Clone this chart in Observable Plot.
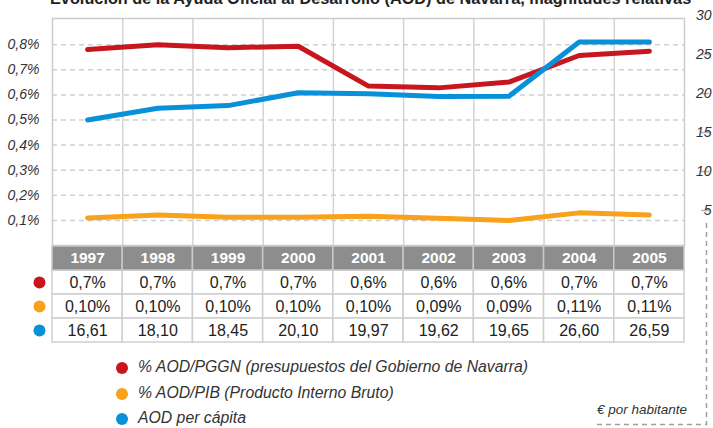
<!DOCTYPE html>
<html>
<head>
<meta charset="utf-8">
<script src="https://cdn.jsdelivr.net/npm/d3@7"></script>
<script src="https://cdn.jsdelivr.net/npm/@observablehq/plot@0.6"></script>
<style>
  html, body { margin: 0; padding: 0; background: #fff; }
  #root { position: relative; width: 713px; height: 428px; overflow: hidden; font-family: "Liberation Sans", Arial, sans-serif; }
  #title { position: absolute; left: 50px; top: -10px; font-weight: bold; font-size: 16.3px; line-height: 16px; color: #222; white-space: nowrap; }
  #chart, #table { position: absolute; left: 0; }
  #chart { top: 0; }
  #table { top: 245px; }
  .leg { position: absolute; left: 138px; font-style: italic; font-size: 15.8px; color: #333; white-space: nowrap; line-height: 18px; }
  .legdot { position: absolute; width: 12px; height: 12px; border-radius: 50%; left: 116px; }
  #unit { position: absolute; left: 597px; top: 402px; font-style: italic; font-size: 13.5px; color: #333; white-space: nowrap; }
  #bracket { position: absolute; left: 0; top: 0; }
</style>
</head>
<body>
<div id="root">
  <div id="title">Evolución de la Ayuda Oficial al Desarrollo (AOD) de Navarra, magnitudes relativas</div>
  <div id="chart"></div>
  <div id="table"></div>
  <div id="legend"></div>
  <div id="unit">€ por habitante</div>
  <svg id="bracket" width="713" height="428"><path d="M706.5,223 V424.5 H595" fill="none" stroke="#a0a0a0" stroke-width="1.5" stroke-dasharray="5,4"/></svg>
</div>
<script>
// ---- data ----
const years = [1997, 1998, 1999, 2000, 2001, 2002, 2003, 2004, 2005];
const pggn = [0.781, 0.800, 0.788, 0.794, 0.635, 0.628, 0.651, 0.757, 0.774];   // % AOD/PGGN (line)
const pib = [0.110, 0.122, 0.113, 0.113, 0.117, 0.109, 0.100, 0.130, 0.122];    // % AOD/PIB (line)
const perCapita = [16.61, 18.10, 18.45, 20.10, 19.97, 19.62, 19.65, 26.60, 26.59]; // € por habitante
const pggnLabels = ["0,7%", "0,7%", "0,7%", "0,7%", "0,6%", "0,6%", "0,6%", "0,7%", "0,7%"];
const pibLabels = ["0,10%", "0,10%", "0,10%", "0,10%", "0,10%", "0,09%", "0,09%", "0,11%", "0,11%"];
const leftTicks = [0.1, 0.2, 0.3, 0.4, 0.5, 0.6, 0.7, 0.8];
const rightTicks = [5, 10, 15, 20, 25];
const rightTopTick = [30];
const seriesNames = ["% AOD/PGGN (presupuestos del Gobierno de Navarra)", "% AOD/PIB (Producto Interno Bruto)", "AOD per cápita"];
const colors = ["#c8161e", "#f7a11c", "#0891d8"];

// secondary axis: € per capita -> % units of the main y scale
const e2p = d3.scaleLinear().domain([0, 30]).range([-4 / 251, 230 / 251]);
const fmtE = v => v.toFixed(2).replace(".", ",");

const W = 713, mL = 52, mR = 29;
const xDomain = [1996.5, 2005.5];
const bounds = d3.range(1997.5, 2005.5, 1);

const pggnData = years.map((year, i) => ({year, v: pggn[i]}));
const pibData = years.map((year, i) => ({year, v: pib[i]}));
const capData = years.map((year, i) => ({year, v: e2p(perCapita[i])}));

const chart = Plot.plot({
  width: W, height: 245,
  marginLeft: mL, marginRight: mR, marginTop: 18, marginBottom: 0,
  style: {fontFamily: "'Liberation Sans', Arial, sans-serif", overflow: "visible"},
  x: {domain: xDomain, axis: null, label: null},
  y: {domain: [0, 227 / 251], axis: null, label: null},
  marks: [
    Plot.ruleY(leftTicks, {stroke: "#cfcfcf", strokeWidth: 1.5, strokeDasharray: "5,4"}),
    Plot.ruleX(bounds, {stroke: "#d3d3d3", strokeWidth: 1.5}),
    Plot.frame({stroke: "#cccccc", strokeWidth: 1.5}),
    Plot.axisY(leftTicks, {anchor: "left", label: null, tickSize: 0, tickPadding: 13, fontSize: 14, fontStyle: "italic", fill: "#333",
      tickFormat: d => d.toFixed(1).replace(".", ",") + "%"}),
    Plot.axisY(rightTicks.map(e2p), {anchor: "right", label: null, tickSize: 8, stroke: "#b5b5b5", strokeWidth: 1.5, tickPadding: 3,
      textAnchor: "end", dx: 16, fontSize: 14, fontStyle: "italic", fill: "#333",
      tickFormat: d => String(Math.round(e2p.invert(d)))}),
    Plot.axisY(rightTopTick.map(e2p), {anchor: "right", label: null, tickSize: 0, tickPadding: 11,
      textAnchor: "end", dx: 16, fontSize: 14, fontStyle: "italic", fill: "#333",
      tickFormat: d => String(Math.round(e2p.invert(d)))}),
    Plot.line(pibData, {x: "year", y: "v", stroke: colors[1], strokeWidth: 5, strokeLinecap: "round", strokeLinejoin: "round"}),
    Plot.line(pggnData, {x: "year", y: "v", stroke: colors[0], strokeWidth: 5, strokeLinecap: "round", strokeLinejoin: "round"}),
    Plot.line(capData, {x: "year", y: "v", stroke: colors[2], strokeWidth: 5, strokeLinecap: "round", strokeLinejoin: "round"})
  ]
});
document.getElementById("chart").appendChild(chart);

// ---- table ----
const rowKeys = ["h", "a", "b", "c"];
const cells = [];
years.forEach((year, i) => {
  cells.push({year, row: "h", label: String(year)});
  cells.push({year, row: "a", label: pggnLabels[i]});
  cells.push({year, row: "b", label: pibLabels[i]});
  cells.push({year, row: "c", label: fmtE(perCapita[i])});
});
const header = cells.filter(d => d.row === "h");
const body = cells.filter(d => d.row !== "h");

const table = Plot.plot({
  width: W, height: 98,
  marginLeft: mL, marginRight: mR, marginTop: 0, marginBottom: 0,
  style: {fontFamily: "'Liberation Sans', Arial, sans-serif", overflow: "visible"},
  x: {domain: xDomain, axis: null, label: null},
  y: {domain: rowKeys, axis: null, padding: 0, label: null},
  marks: [
    Plot.barX(body, {x1: d => d.year - 0.5, x2: d => d.year + 0.5, y: "row", fill: "#fff", stroke: "#cfcfcf", strokeWidth: 1.5, inset: 0}),
    Plot.barX(header, {x1: d => d.year - 0.5, x2: d => d.year + 0.5, y: "row", fill: "#8d8d8e", stroke: "#c9c9c9", strokeWidth: 1.5, inset: 0}),
    Plot.text(header, {x: "year", y: "row", text: "label", fill: "#fff", fontWeight: "bold", fontSize: 15.5}),
    Plot.text(body, {x: "year", y: "row", text: "label", fill: "#222", fontSize: 16}),
    Plot.dot(["a", "b", "c"], {y: d => d, frameAnchor: "left", dx: -13, r: 6, fill: (d, i) => colors[i], stroke: null})
  ]
});
document.getElementById("table").appendChild(table);

// ---- legend ----
const legend = document.getElementById("legend");
const legY = [368, 393.5, 419];
seriesNames.forEach((name, i) => {
  const dot = document.createElement("div");
  dot.className = "legdot";
  dot.style.top = (legY[i] - 6) + "px";
  dot.style.background = colors[i];
  legend.appendChild(dot);
  const t = document.createElement("div");
  t.className = "leg";
  t.style.top = (legY[i] - 10) + "px";
  t.textContent = name;
  legend.appendChild(t);
});
</script>
</body>
</html>
